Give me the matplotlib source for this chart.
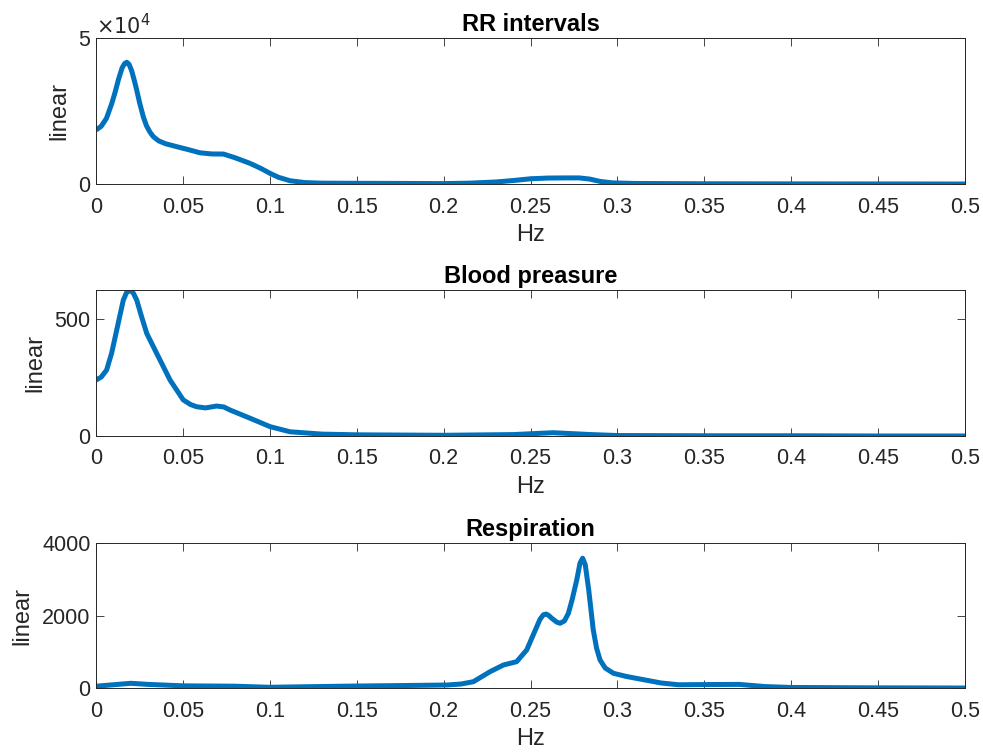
import numpy as np
import matplotlib
matplotlib.use('Agg')
import matplotlib.pyplot as plt

plt.rcParams['font.family'] = ['Liberation Sans', 'DejaVu Sans']

# spectrum of RR intervals
rr_freq = [0, 0.003, 0.006, 0.009, 0.011, 0.013, 0.015, 0.0165, 0.0177, 0.019,
           0.0205, 0.022, 0.0234, 0.025, 0.0272, 0.029, 0.031, 0.033, 0.036, 0.040,
           0.0464, 0.053, 0.0598, 0.0665, 0.0733, 0.080, 0.0886, 0.095, 0.1001, 0.105,
           0.1116, 0.12, 0.13, 0.15, 0.18, 0.2, 0.215, 0.23, 0.24, 0.25,
           0.26, 0.27, 0.278, 0.284, 0.29, 0.297, 0.31, 0.35, 0.4, 0.45, 0.5]
rr_pow = [18500, 19800, 22500, 27500, 31500, 36000, 39800, 41300, 41700, 41000,
          38800, 35500, 32200, 28000, 23000, 20000, 17800, 16200, 14800, 13800,
          12800, 11800, 10700, 10300, 10270, 9000, 7080, 5300, 3660, 2300,
          1130, 500, 300, 250, 200, 150, 300, 700, 1200, 1800,
          2050, 2100, 2100, 1700, 900, 400, 200, 100, 60, 30, 10]

# blood pressure
bp_freq = [0, 0.003, 0.0061, 0.009, 0.0119, 0.0157, 0.0175, 0.0196, 0.0215, 0.0234,
           0.0262, 0.0292, 0.0349, 0.0426, 0.0502, 0.0545, 0.0579, 0.063, 0.0694, 0.0735,
           0.0771, 0.0886, 0.1001, 0.1116, 0.13, 0.15, 0.2, 0.24, 0.263, 0.285,
           0.3, 0.35, 0.4, 0.45, 0.5]
bp_pow = [239, 252, 282, 355, 453, 581, 612, 624, 610, 581,
          510, 438, 353, 239, 154, 134, 125, 120, 128, 124,
          111, 76, 40, 18, 8, 5, 3, 6, 14, 6,
          2, 1, 1, 0, 0]

# respiration
resp_freq = [0, 0.01, 0.02, 0.03, 0.05, 0.08, 0.1, 0.12, 0.15, 0.18,
             0.2018, 0.21, 0.2171, 0.2267, 0.2344, 0.242, 0.2478, 0.2536, 0.2555, 0.2574,
             0.259, 0.2605, 0.2622, 0.265, 0.267, 0.2695, 0.2718, 0.274, 0.2766, 0.2785,
             0.2800, 0.2815, 0.2835, 0.2861, 0.288, 0.29, 0.293, 0.2977, 0.305, 0.315,
             0.325, 0.335, 0.35, 0.37, 0.385, 0.40, 0.45, 0.5]
resp_pow = [50, 90, 130, 100, 60, 50, 20, 35, 55, 70,
            83, 110, 174, 450, 635, 726, 1049, 1692, 1900, 2020,
            2040, 2000, 1924, 1820, 1786, 1850, 2061, 2450, 2981, 3450,
            3580, 3400, 2700, 1600, 1100, 773, 550, 406, 320, 230,
            140, 90, 95, 100, 40, 15, 5, 0]

titles = ['RR intervals', 'Blood preasure', 'Respiration']
xticks = np.arange(0, 0.501, 0.05)
xtick_labels = ['0', '0.05', '0.1', '0.15', '0.2', '0.25', '0.3', '0.35', '0.4', '0.45', '0.5']

fig = plt.figure(figsize=(9.83, 7.53), dpi=100)
boxes = [[0.0977, 0.7556, 0.884, 0.1939],
         [0.0977, 0.4210, 0.884, 0.1939],
         [0.0977, 0.0863, 0.884, 0.1926]]
series = [(rr_freq, rr_pow), (bp_freq, bp_pow), (resp_freq, resp_pow)]
ylims = [(0, 50000), (0, 624), (0, 4000)]
yticks = [[0, 50000], [0, 500], [0, 2000, 4000]]
ytick_labels = [['0', '5'], ['0', '500'], ['0', '2000', '4000']]

dark = '#262626'
for i in range(3):
    ax = fig.add_axes(boxes[i])
    f, p = series[i]
    ax.plot(f, p, color='#0072BD', lw=3.6, solid_joinstyle='round', solid_capstyle='butt')
    ax.set_xlim(0, 0.5)
    ax.set_ylim(*ylims[i])
    ax.set_xticks(xticks)
    ax.set_xticklabels(xtick_labels)
    ax.set_yticks(yticks[i])
    ax.set_yticklabels(ytick_labels[i])
    ax.tick_params(direction='in', top=True, right=True, labelsize=15.5,
                   colors=dark, length=6, width=0.6)
    ax.tick_params(axis='x', pad=9)
    ax.tick_params(axis='y', pad=4)
    for s in ax.spines.values():
        s.set_color(dark)
        s.set_linewidth(0.7)
    ax.set_title(titles[i], fontsize=17, fontweight='bold', pad=5)
    ax.set_xlabel('Hz', fontsize=17, color=dark, labelpad=5)
    ax.set_ylabel('linear', fontsize=17, color=dark, labelpad=6)
    if i == 0:
        ax.text(0.0, 1.0, r'$\times10^4$', transform=ax.transAxes, fontsize=15,
                color=dark, ha='left', va='bottom', family='DejaVu Sans')

fig.savefig('out.png', dpi=100)
